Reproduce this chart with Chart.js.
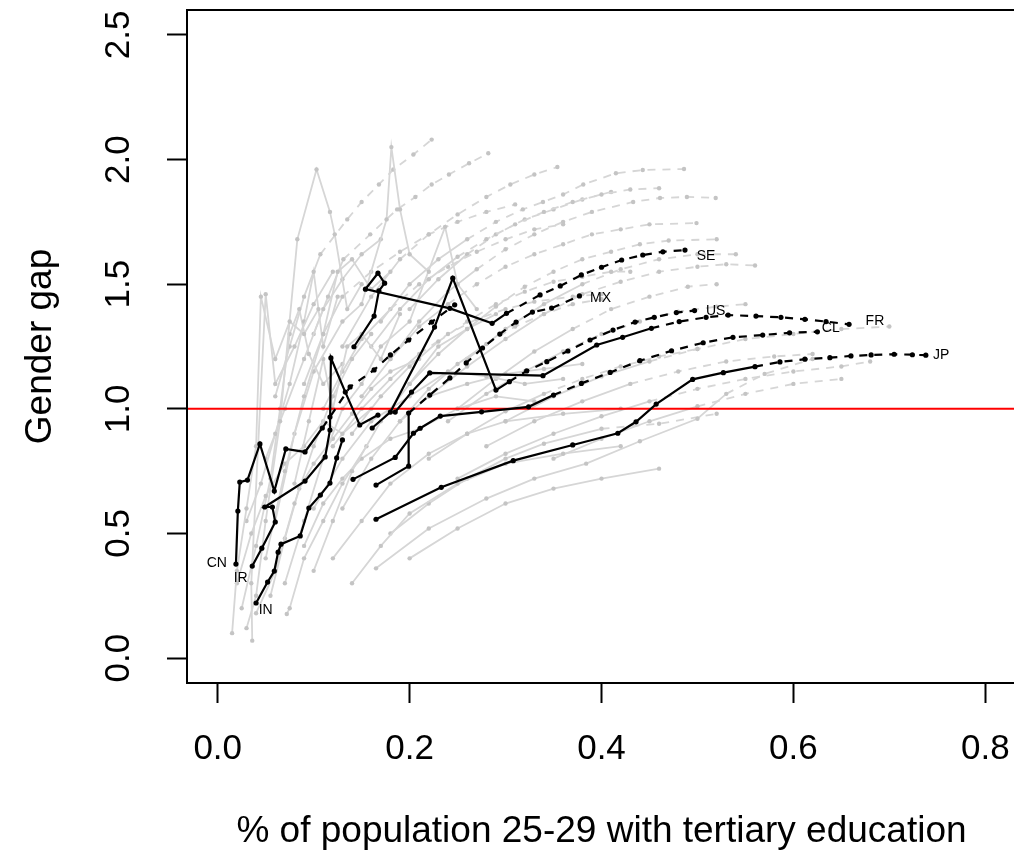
<!DOCTYPE html>
<html>
<head>
<meta charset="utf-8">
<title>Gender gap vs tertiary education</title>
<script src="https://cdn.jsdelivr.net/npm/chart.js@4"></script>
<style>
    html, body { margin: 0; padding: 0; background: #fff; overflow: hidden; }
    #wrap { width: 1020px; height: 854px; }
</style>
</head>
<body>
<div id="wrap"><canvas id="chart" width="1020" height="854"></canvas></div>
<script>
// Axis ticks
const xTicks = [0, 0.2, 0.4, 0.6, 0.8];
const yTicks = [0, 0.5, 1, 1.5, 2, 2.5];

// Highlighted countries: [share with tertiary education, gender gap]
const cnPts = [[0.019,0.377],[0.021,0.590],[0.023,0.706],[0.031,0.714],[0.044,0.859],[0.059,0.670],[0.071,0.839],[0.091,0.827],[0.109,0.923],[0.117,0.967],[0.138,1.088],[0.163,1.156],[0.180,1.216],[0.199,1.276],[0.223,1.348],[0.247,1.417]];
const irPts = [[0.036,0.369],[0.046,0.441],[0.060,0.546],[0.057,0.606],[0.049,0.606],[0.091,0.710],[0.112,0.807],[0.117,0.915],[0.118,1.204],[0.133,1.067],[0.148,0.935],[0.167,0.975]];
const inPts = [[0.040,0.221],[0.052,0.305],[0.059,0.349],[0.063,0.425],[0.066,0.457],[0.086,0.490],[0.095,0.602],[0.107,0.654],[0.117,0.702],[0.124,0.803],[0.130,0.875]];
const sePts = [[0.142,1.249],[0.163,1.372],[0.168,1.473],[0.174,1.504],[0.167,1.544],[0.154,1.480],[0.242,1.403],[0.286,1.343],[0.301,1.383],[0.336,1.457],[0.357,1.493],[0.379,1.537],[0.400,1.568],[0.421,1.597],[0.443,1.617],[0.464,1.630],[0.487,1.637]];
const mxPts = [[0.165,0.694],[0.199,0.770],[0.199,0.983],[0.221,1.055],[0.242,1.124],[0.259,1.184],[0.276,1.244],[0.294,1.300],[0.311,1.348],[0.328,1.388],[0.348,1.404],[0.377,1.453]];
const usPts = [[0.161,0.923],[0.180,0.987],[0.226,1.328],[0.245,1.524],[0.290,1.075],[0.304,1.109],[0.322,1.152],[0.343,1.189],[0.365,1.232],[0.388,1.276],[0.412,1.316],[0.435,1.348],[0.455,1.367],[0.478,1.386],[0.497,1.394]];
const frPts = [[0.185,0.987],[0.202,1.067],[0.221,1.144],[0.339,1.133],[0.395,1.256],[0.422,1.287],[0.452,1.323],[0.481,1.350],[0.509,1.367],[0.532,1.376],[0.561,1.372],[0.587,1.367],[0.612,1.359],[0.634,1.350],[0.658,1.339]];
const clPts = [[0.141,0.717],[0.185,0.805],[0.204,0.902],[0.211,0.922],[0.232,0.971],[0.275,0.988],[0.324,1.008],[0.350,1.055],[0.379,1.102],[0.409,1.146],[0.440,1.193],[0.473,1.233],[0.506,1.265],[0.537,1.287],[0.568,1.296],[0.596,1.305],[0.625,1.309]];
const jpPts = [[0.165,0.557],[0.233,0.685],[0.308,0.792],[0.370,0.855],[0.417,0.902],[0.436,0.948],[0.457,1.019],[0.495,1.118],[0.527,1.145],[0.560,1.169],[0.586,1.188],[0.612,1.199],[0.638,1.205],[0.660,1.212],[0.681,1.216],[0.705,1.219],[0.724,1.217],[0.738,1.215]];

// Index of the first projected (dashed) segment for each highlighted line
const blackLines = [cnPts, irPts, inPts, sePts, mxPts, usPts, frPts, clPts, jpPts];
const blackProj = [8, 99, 99, 8, 2, 5, 6, 7, 9];

// Country codes and where they sit
const codeLabels = ['CN', 'IR', 'IN', 'SE', 'MX', 'US', 'FR', 'CL', 'JP'];
const codeX = [-0.001, 0.024, 0.050, 0.509, 0.399, 0.519, 0.685, 0.639, 0.754];
const codeY = [0.382, 0.320, 0.193, 1.613, 1.443, 1.390, 1.350, 1.323, 1.216];

// Other countries (grey)
const greyLines = [
    [[0.015,0.10],[0.02,0.35],[0.03,0.60],[0.04,0.85],[0.045,1.45],[0.06,1.20],[0.075,1.35],[0.09,1.30],[0.105,1.40]],
    [[0.036,0.07],[0.035,0.30],[0.05,1.46],[0.06,1.10],[0.08,1.25],[0.10,1.42],[0.12,1.55]],
    [[0.03,0.12],[0.04,0.25],[0.05,0.55],[0.065,0.95],[0.083,1.68],[0.103,1.96],[0.117,1.79],[0.122,1.70],[0.135,1.40],[0.15,1.50]],
    [[0.05,0.40],[0.07,0.75],[0.09,1.05],[0.11,1.30],[0.125,1.55],[0.14,1.60],[0.16,1.48],[0.18,1.55]],
    [[0.06,0.55],[0.08,0.90],[0.10,1.15],[0.13,1.35],[0.15,1.42],[0.176,1.76],[0.181,2.05],[0.19,1.80],[0.20,1.62],[0.22,1.55]],
    [[0.07,0.30],[0.09,0.55],[0.11,0.80],[0.13,1.00],[0.15,1.10],[0.17,1.25],[0.20,1.35],[0.237,1.73],[0.25,1.50],[0.27,1.40]],
    [[0.04,0.18],[0.06,0.35],[0.08,0.62],[0.10,0.85],[0.12,1.05],[0.14,1.20],[0.16,1.30]],
    [[0.10,0.35],[0.12,0.55],[0.14,0.75],[0.17,0.95],[0.20,1.10],[0.23,1.25],[0.26,1.32],[0.29,1.38]],
    [[0.08,0.70],[0.095,0.95],[0.11,1.20],[0.12,1.00],[0.135,1.25],[0.15,1.30],[0.17,1.20],[0.19,1.38]],
    [[0.03,0.55],[0.045,0.70],[0.06,0.90],[0.075,1.10],[0.09,1.35],[0.10,1.55],[0.11,1.25],[0.125,1.45]],
    [[0.12,0.40],[0.15,0.55],[0.18,0.70],[0.22,0.82],[0.26,0.90],[0.30,0.95],[0.36,0.98],[0.42,1.00]],
    [[0.14,0.30],[0.17,0.45],[0.20,0.58],[0.25,0.70],[0.30,0.78],[0.36,0.82],[0.42,0.85]],
    [[0.02,0.30],[0.035,0.50],[0.05,0.65],[0.07,0.78],[0.09,0.85],[0.11,0.95],[0.13,0.90],[0.16,1.00]],
    [[0.10,0.60],[0.13,0.80],[0.16,0.95],[0.20,1.05],[0.24,1.15],[0.28,1.13],[0.32,1.10],[0.36,1.12]],
    [[0.072,0.177],[0.075,0.20],[0.09,0.40],[0.11,0.55],[0.13,0.70],[0.155,0.85]],
    [[0.165,0.36],[0.22,0.52],[0.28,0.64],[0.33,0.72],[0.384,0.78],[0.44,0.87],[0.50,0.96],[0.53,1.06],[0.57,1.14],[0.62,1.20]],
    [[0.025,0.20],[0.04,0.45],[0.055,0.72],[0.065,1.00],[0.075,1.30],[0.085,1.40],[0.095,1.22],[0.11,1.10],[0.13,1.18]],
    [[0.055,0.25],[0.07,0.48],[0.085,0.68],[0.10,0.78],[0.12,0.88],[0.14,0.98],[0.16,1.08],[0.18,1.15],[0.21,1.20]],
    [[0.09,0.45],[0.11,0.62],[0.13,0.72],[0.15,0.80],[0.18,0.88],[0.21,0.92],[0.25,1.00],[0.29,1.05],[0.33,1.03]],
    [[0.18,0.50],[0.22,0.62],[0.26,0.72],[0.30,0.80],[0.34,0.86],[0.40,0.92],[0.46,0.94],[0.52,0.98]],
    [[0.13,0.60],[0.16,0.80],[0.19,0.95],[0.22,1.05],[0.26,1.10],[0.30,1.14],[0.34,1.16],[0.38,1.18]],
    [[0.05,0.80],[0.07,1.00],[0.09,1.20],[0.11,1.40],[0.13,1.52],[0.15,1.62],[0.17,1.68]],
    [[0.20,0.40],[0.25,0.52],[0.30,0.62],[0.35,0.68],[0.40,0.72],[0.46,0.76]],
    [[0.06,1.05],[0.075,1.25],[0.09,1.45],[0.107,1.62],[0.135,1.76],[0.150,1.83],[0.168,1.90],[0.183,1.96],[0.204,2.02],[0.223,2.08]],
    [[0.10,1.30],[0.115,1.45],[0.131,1.60],[0.159,1.70],[0.187,1.80],[0.206,1.85],[0.223,1.90],[0.241,1.94],[0.262,1.985],[0.282,2.025]],
    [[0.13,1.25],[0.16,1.45],[0.19,1.60],[0.22,1.70],[0.25,1.78],[0.28,1.85],[0.305,1.90],[0.33,1.94],[0.354,1.97]],
    [[0.17,1.35],[0.20,1.50],[0.23,1.60],[0.26,1.68],[0.29,1.75],[0.318,1.80],[0.339,1.83],[0.36,1.86],[0.381,1.90],[0.415,1.945],[0.443,1.958],[0.486,1.962]],
    [[0.18,1.20],[0.21,1.35],[0.24,1.47],[0.27,1.56],[0.30,1.64],[0.33,1.70],[0.36,1.75],[0.39,1.79],[0.433,1.83],[0.461,1.846],[0.489,1.85],[0.519,1.846]],
    [[0.15,1.05],[0.18,1.20],[0.21,1.33],[0.24,1.42],[0.27,1.50],[0.30,1.57],[0.33,1.62],[0.36,1.66],[0.39,1.70],[0.42,1.72],[0.45,1.74],[0.499,1.745]],
    [[0.20,1.10],[0.23,1.22],[0.26,1.32],[0.29,1.41],[0.32,1.49],[0.35,1.55],[0.38,1.60],[0.41,1.63],[0.44,1.66],[0.47,1.675],[0.52,1.68]],
    [[0.22,1.05],[0.26,1.17],[0.30,1.28],[0.34,1.38],[0.38,1.46],[0.42,1.51],[0.46,1.55],[0.50,1.57],[0.53,1.58],[0.56,1.575]],
    [[0.30,0.95],[0.35,1.05],[0.40,1.13],[0.45,1.19],[0.50,1.24],[0.55,1.28],[0.60,1.30],[0.65,1.32],[0.70,1.33]],
    [[0.28,0.85],[0.33,0.95],[0.38,1.03],[0.43,1.10],[0.48,1.15],[0.53,1.19],[0.58,1.21],[0.62,1.22]],
    [[0.25,0.72],[0.30,0.82],[0.35,0.90],[0.40,0.97],[0.45,1.03],[0.50,1.08],[0.55,1.12],[0.60,1.15],[0.65,1.17],[0.68,1.19]],
    [[0.14,0.90],[0.17,1.05],[0.20,1.17],[0.23,1.27],[0.26,1.35],[0.29,1.42],[0.32,1.47],[0.35,1.51],[0.38,1.53],[0.41,1.55],[0.43,1.55]],
    [[0.12,0.85],[0.15,1.00],[0.18,1.12],[0.21,1.22],[0.24,1.30],[0.27,1.36],[0.30,1.40],[0.33,1.43],[0.37,1.45],[0.40,1.46]],
    [[0.24,0.95],[0.28,1.06],[0.32,1.15],[0.36,1.23],[0.40,1.30],[0.44,1.35],[0.48,1.39],[0.52,1.41],[0.55,1.42]],
    [[0.22,0.80],[0.26,0.90],[0.30,0.99],[0.34,1.06],[0.38,1.12],[0.42,1.17],[0.46,1.21],[0.50,1.24]],
    [[0.09,1.10],[0.11,1.30],[0.13,1.45],[0.16,1.55],[0.19,1.63],[0.22,1.70],[0.25,1.75],[0.28,1.79],[0.31,1.82]],
    [[0.16,1.25],[0.19,1.40],[0.22,1.52],[0.25,1.61],[0.28,1.68],[0.31,1.74],[0.34,1.79],[0.37,1.83],[0.40,1.86],[0.43,1.88],[0.46,1.885]],
    [[0.25,1.00],[0.29,1.12],[0.33,1.23],[0.37,1.32],[0.41,1.40],[0.45,1.45],[0.49,1.49],[0.52,1.50]],
    [[0.11,1.00],[0.13,1.15],[0.15,1.28],[0.18,1.40],[0.21,1.50],[0.24,1.57],[0.27,1.63],[0.30,1.68],[0.33,1.72],[0.36,1.74]],
    [[0.19,0.95],[0.22,1.08],[0.25,1.18],[0.28,1.26],[0.31,1.33],[0.34,1.38],[0.37,1.42],[0.40,1.44]],
    [[0.26,1.20],[0.30,1.32],[0.34,1.42],[0.38,1.50],[0.42,1.56],[0.46,1.60],[0.50,1.62],[0.54,1.62]],
    [[0.20,1.40],[0.23,1.52],[0.26,1.62],[0.29,1.70],[0.32,1.76],[0.35,1.80],[0.38,1.84],[0.41,1.87]],
    [[0.35,0.80],[0.40,0.88],[0.45,0.95],[0.50,1.01],[0.55,1.06],[0.60,1.10],[0.65,1.12]]
];
const greyProj = [99, 99, 99, 99, 99, 99, 99, 99, 99, 99, 99, 99, 99, 99, 99, 7, 99, 99, 99, 5, 99, 99, 99,
                  3, 2, 2, 3, 3, 3, 3, 3, 3, 3, 4, 3, 3, 3, 3, 2, 3, 3, 3, 3, 3, 2, 3];

// Parity line
const refLine = [[-0.032, 1], [0.832, 1]];

const FONT = "'Liberation Sans', Arial, sans-serif";
const DASH = [8, 7];

function toXY(pts) {
    return pts.map(p => ({ x: p[0], y: p[1] }));
}

function lineDataset(pts, proj, colour, pointColour, width, radius, order) {
    return {
        data: toXY(pts),
        showLine: true,
        borderColor: colour,
        borderWidth: width,
        pointRadius: radius,
        pointBackgroundColor: pointColour,
        pointBorderWidth: 0,
        tension: 0,
        order: order,
        segment: {
            borderDash: ctx => (ctx.p0DataIndex >= proj ? DASH : undefined)
        }
    };
}

const datasets = [];
blackLines.forEach((pts, i) => {
    datasets.push(lineDataset(pts, blackProj[i], '#000000', '#000000', 2.2, 2.6, 0));
});
datasets.push({
    data: toXY(refLine),
    showLine: true,
    borderColor: '#ff0000',
    borderWidth: 2,
    pointRadius: 0,
    order: 1
});
greyLines.forEach((pts, i) => {
    datasets.push(lineDataset(pts, greyProj[i], '#d6d6d6', '#c4c4c4', 1.8, 2.2, 2));
});

// Plot box (top side comes from here)
const boxPlugin = {
    id: 'box',
    afterDraw(chart) {
        const a = chart.chartArea;
        const ctx = chart.ctx;
        ctx.save();
        ctx.strokeStyle = '#000';
        ctx.lineWidth = 2;
        ctx.strokeRect(a.left, a.top, a.right - a.left, a.bottom - a.top);
        ctx.restore();
    }
};

// Country code text next to the highlighted lines
const codePlugin = {
    id: 'codes',
    afterDatasetsDraw(chart) {
        const ctx = chart.ctx;
        const xs = chart.scales.x;
        const ys = chart.scales.y;
        ctx.save();
        ctx.fillStyle = '#000';
        ctx.font = '14px ' + FONT;
        ctx.textAlign = 'center';
        ctx.textBaseline = 'middle';
        codeLabels.forEach((t, i) => {
            ctx.fillText(t, xs.getPixelForValue(codeX[i]), ys.getPixelForValue(codeY[i]));
        });
        ctx.restore();
    }
};

const axisGrid = {
    drawOnChartArea: false,
    drawTicks: true,
    tickLength: 20,
    tickWidth: 2,
    tickColor: '#000'
};

// keep the plot box where the reference has it
function noLabelPadding(s) {
    s.paddingTop = 0;
    s.paddingBottom = 0;
    s.paddingLeft = 0;
    s.paddingRight = 0;
}

new Chart(document.getElementById('chart'), {
    type: 'scatter',
    data: { datasets: datasets },
    options: {
        responsive: false,
        animation: false,
        devicePixelRatio: 1,
        layout: { padding: { left: 0, right: 4, top: 10, bottom: 0 } },
        plugins: {
            legend: { display: false },
            tooltip: { enabled: false }
        },
        scales: {
            x: {
                type: 'linear',
                min: -0.032,
                max: 0.832,
                afterBuildTicks: s => { s.ticks = xTicks.map(v => ({ value: v })); },
                afterFit: s => { s.height = 171; noLabelPadding(s); },
                grid: axisGrid,
                border: { display: true, color: '#000', width: 2 },
                ticks: {
                    color: '#000',
                    font: { family: FONT, size: 35 },
                    padding: 25,
                    maxRotation: 0,
                    autoSkip: false,
                    callback: v => v.toFixed(1)
                },
                title: {
                    display: true,
                    text: '% of population 25-29 with tertiary education',
                    color: '#000',
                    font: { family: FONT, size: 37 },
                    padding: { top: 0, bottom: 0 }
                }
            },
            y: {
                type: 'linear',
                min: -0.1,
                max: 2.6,
                afterBuildTicks: s => { s.ticks = yTicks.map(v => ({ value: v })); },
                afterFit: s => { s.width = 187; noLabelPadding(s); },
                grid: axisGrid,
                border: { display: true, color: '#000', width: 2 },
                ticks: {
                    color: '#000',
                    font: { family: FONT, size: 35 },
                    padding: 23,
                    minRotation: 90,
                    maxRotation: 90,
                    crossAlign: 'center',
                    autoSkip: false,
                    callback: v => v.toFixed(1)
                },
                title: {
                    display: true,
                    text: 'Gender gap',
                    color: '#000',
                    font: { family: FONT, size: 37 },
                    padding: { top: 19, bottom: 0 }
                }
            }
        }
    },
    plugins: [boxPlugin, codePlugin]
});
</script>
</body>
</html>
